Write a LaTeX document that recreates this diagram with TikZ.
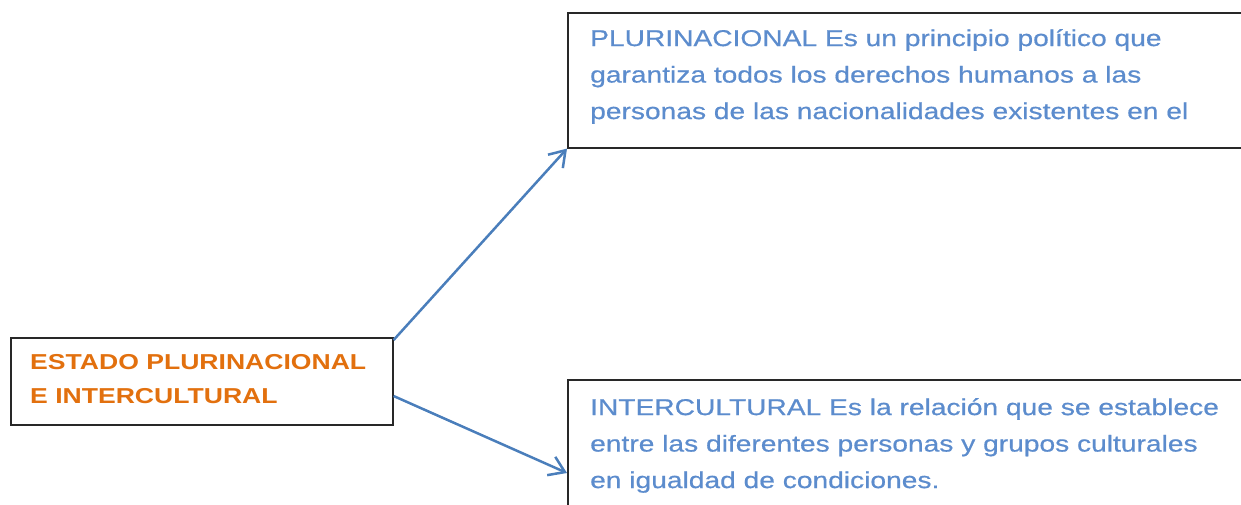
\documentclass[tikz,border=0pt]{standalone}
\usepackage{fontspec}
\newfontfamily\mapfont[FakeStretch=1.23]{Liberation Sans}
\newfontfamily\mapfontheavy[FakeStretch=1.23,FakeBold=0.6]{Liberation Sans}
\usetikzlibrary{arrows.meta}
\usetikzlibrary{positioning}

\definecolor{linkblue}{RGB}{74,126,187}
\definecolor{textblue}{RGB}{92,140,205}
\definecolor{titleorange}{RGB}{226,112,14}
\definecolor{boxgray}{RGB}{40,40,40}

\tikzset{
  conceptbox/.style={draw=boxgray, line width=1.6pt, inner sep=0pt, anchor=north west},
  deftext/.style={inner sep=0pt, anchor=north west, align=left, text=textblue,
    font=\mapfontheavy\fontsize{22.9}{36.5}\selectfont},
  titletext/.style={inner sep=0pt, anchor=north west, align=left, text=titleorange,
    font=\mapfont\bfseries\fontsize{21.6}{34}\selectfont},
  link/.style={draw=linkblue, line width=2.5pt, -{Straight Barb[length=15pt,width=20pt]}}
}

\begin{document}
\begin{tikzpicture}[x=1pt,y=-1pt]
    \useasboundingbox (0,0) rectangle (1241,504);
    \clip (0,0) rectangle (1241,504);

    % Main concept
    \node[conceptbox, minimum width=382pt, minimum height=87pt] (estado) at (10,337) {};
    \node[titletext] (estadotxt) at (30,354) {ESTADO PLURINACIONAL\\E INTERCULTURAL};

    % Definition boxes (right edge runs off the page)
    \node[conceptbox, minimum width=690pt, minimum height=135pt] (plur) at (567,12) {};
    \node[deftext] (plurtxt) at (590,29) {PLURINACIONAL Es un principio pol\'itico que\\garantiza todos los derechos humanos a las\\personas de las nacionalidades existentes en el};

    \node[conceptbox, minimum width=690pt, minimum height=140pt] (inter) at (567,379) {};
    \node[deftext] (intertxt) at (590,398) {INTERCULTURAL Es la relaci\'on que se establece\\entre las diferentes personas y grupos culturales\\en igualdad de condiciones.};

    % Links
    \draw[link] ([yshift=-3pt]estado.north east) -- (plur.south west);
    \draw[link] ([yshift=-59pt]estado.north east) -- ([yshift=-94pt]inter.north west);
\end{tikzpicture}
\end{document}
